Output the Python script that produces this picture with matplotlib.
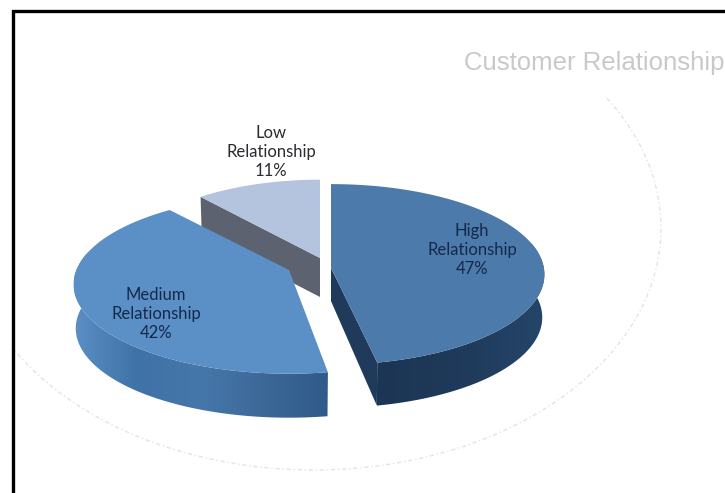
import matplotlib
matplotlib.use('Agg')
import matplotlib.pyplot as plt
from matplotlib.patches import Polygon
import numpy as np

# valores do grafico
categorias = ['High', 'Medium', 'Low']
percentuais = [47, 42, 11]
titulo = 'Customer Relationship'

# geometria de cada fatia (em pixels)
centros = [(331, 268), (289, 270), (320, 258)]
raios_x = [213, 215, 196]
raios_y = [90, 89, 83]
desloc_y = [1, 9, 0]  # centro do arco um pouco abaixo do vertice
ajuste_ini = [0, 1, 0]  # graus, correcao da perspectiva nas pontas
ajuste_fim = [-1, 4, 0]
profundidade = [43, 44, 39]
pos_rotulos = [(472, 250), (156, 314), (271, 152)]

cor_topo = ['#4c7aab', '#5b90c7', '#b4c3de']
cor_corte = ['#1f3a5a', None, '#5c6270']
cor_rotulo = ['#14294a', '#14294a', '#2b2b30']
# gradiente horizontal da parede externa, da esquerda para a direita
grad_parede = [['#1c3554', '#1f3a5a', '#24456a'],
               ['#5b8fc5', '#3f72a6', '#4677ab', '#3c6897', '#2f5a8a'],
               ['#5c6270', '#5c6270']]
K = 0.06
# ordem de pintura: Low atras, depois High e Medium
ordem = [2, 3, 1]


def ponto(theta, centro, rx, ry):
    # theta em graus, sentido horario a partir do topo, com leve perspectiva
    t = np.radians(theta)
    u, v = np.sin(t), -np.cos(t)
    s = 1 / (1 - K * v)
    return centro[0] + rx * u * s, centro[1] + ry * v * s


def desenha_fatia(ax, i, ini, fim):
    c, rx, ry, d = centros[i], raios_x[i], raios_y[i], profundidade[i]
    arc_c = (c[0], c[1] + desloc_y[i])
    base = (arc_c[0], arc_c[1] + d)

    # parede externa: a parte de tras fica escondida pela face de cima
    thetas = np.linspace(ini, fim, 240)
    thetas = thetas[-np.cos(np.radians(thetas)) > -0.3]
    if len(thetas) > 1 and i != 2:
        cima = [ponto(t, arc_c, rx, ry) for t in thetas]
        baixo = [ponto(t, base, rx * 0.99, ry) for t in thetas[::-1]]
        parede = Polygon(cima + baixo, closed=True, fc='none', ec='none')
        ax.add_patch(parede)
        xs = [p[0] for p in cima + baixo]
        ys = [p[1] for p in cima + baixo]
        rgb = np.array([matplotlib.colors.to_rgb(k) for k in grad_parede[i]])
        pos = np.linspace(0, 1, len(rgb))
        f = np.linspace(0, 1, 256)
        img = np.stack([np.interp(f, pos, rgb[:, j]) for j in range(3)], axis=1)[None, :, :]
        im = ax.imshow(img, extent=(min(xs), max(xs), max(ys), min(ys)), aspect='auto',
                       zorder=ordem[i], interpolation='bilinear')
        im.set_clip_path(parede)

    # parede do corte
    if cor_corte[i] is not None:
        borda = fim if i == 0 else ini
        p = ponto(borda, arc_c, rx, ry)
        q = ponto(borda, base, rx * 0.99, ry)
        recuo = d * 0.77 if i == 0 else d
        quad = [c, p, q, (c[0], c[1] + recuo)]
        ax.fill(*zip(*quad), color=cor_corte[i], lw=0, zorder=ordem[i])

    # face de cima
    arco = [ponto(t, arc_c, rx, ry) for t in np.linspace(ini, fim, 181)]
    ax.fill(*zip(*([c] + arco)), color=cor_topo[i], lw=0, zorder=ordem[i] + 0.5)


fig = plt.figure(figsize=(7.25, 4.93), dpi=100)
ax = fig.add_axes([0, 0, 1, 1])
ax.axis('off')

# moldura preta, so esquerda e topo aparecem
ax.plot([13, 13, 725], [493, 11, 11], color='black', lw=2.4, solid_joinstyle='miter')

# arco tracejado claro ao fundo
ang = np.linspace(np.radians(-32.4), np.radians(150), 400)
ax.plot(314 + 347 * np.cos(ang), 228 + 242 * np.sin(ang), color='#e3e3e3', lw=1,
        ls=(0, (3, 2, 1, 2)), zorder=0)

ax.text(464, 63, titulo, color='#c9c9c9', fontsize=18.5, family='Liberation Sans',
        va='center', ha='left')

# fatias: angulos saem dos percentuais, High comeca em 12 horas
acum = 0
for i, p in enumerate(percentuais):
    ini = acum * 3.6 + ajuste_ini[i]
    fim = (acum + p) * 3.6 + ajuste_fim[i]
    desenha_fatia(ax, i, ini, fim)
    acum += p

for i, cat in enumerate(categorias):
    ax.text(pos_rotulos[i][0], pos_rotulos[i][1],
            f'{cat}\nRelationship\n{percentuais[i]}%',
            color=cor_rotulo[i], family='Lato', fontsize=12, ha='center', va='center',
            linespacing=1.25, zorder=10)

ax.set_xlim(0, 725)
ax.set_ylim(493, 0)

fig.savefig('out.png', dpi=100, facecolor='white')
